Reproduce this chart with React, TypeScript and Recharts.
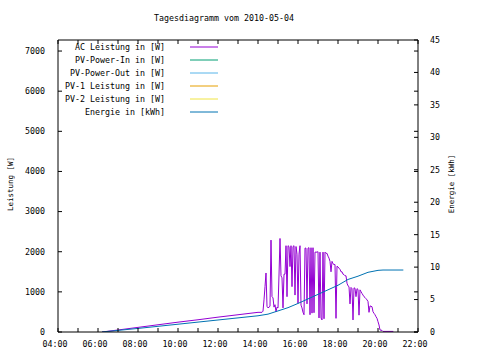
import { LineChart, Line, XAxis, YAxis } from 'recharts';

const FONT = '"DejaVu Sans Mono", monospace';

// AC Leistung [W]
const acTimes = [
  '06:12', '07:00', '08:00', '09:00', '10:00', '11:00', '12:00', '13:00', '14:00', '14:12',
  '14:15', '14:18', '14:21', '14:24', '14:27', '14:30', '14:36', '14:39', '14:42', '14:45',
  '14:48', '14:51', '14:54', '14:57', '15:00', '15:03', '15:06', '15:09', '15:12', '15:15',
  '15:18', '15:21', '15:24', '15:27', '15:30', '15:33', '15:36', '15:39', '15:42', '15:45',
  '15:48', '15:51', '15:54', '15:57', '16:00', '16:03', '16:06', '16:09', '16:12', '16:15',
  '16:18', '16:21', '16:24', '16:27', '16:30', '16:33', '16:36', '16:39', '16:42', '16:45',
  '16:48', '16:51', '16:54', '16:57', '17:00', '17:03', '17:06', '17:09', '17:12', '17:15',
  '17:18', '17:21', '17:24', '17:27', '17:30', '17:33', '17:36', '17:39', '17:42', '17:45',
  '17:48', '17:51', '17:54', '17:57', '18:00', '18:03', '18:06', '18:09', '18:12', '18:15',
  '18:18', '18:21', '18:24', '18:27', '18:30', '18:33', '18:36', '18:39', '18:42', '18:45',
  '18:48', '18:51', '18:54', '18:57', '19:00', '19:03', '19:06', '19:09', '19:12', '19:15',
  '19:18', '19:21', '19:24', '19:27', '19:30', '19:33', '19:36', '19:39', '19:42', '19:45',
  '19:48', '19:51', '19:54', '19:57', '20:00', '20:03', '20:06', '20:09', '20:12', '20:15',
  '20:46',
];
const acValues = [
  0, 50, 115, 180, 245, 305, 370, 430, 490, 490,
  520, 800, 1130, 1470, 640, 600, 640, 2290, 880, 850,
  620, 680, 500, 620, 600, 1420, 2330, 1400, 1350, 600,
  1440, 1440, 2150, 880, 2150, 2130, 1630, 2150, 1130, 2130,
  2150, 920, 2130, 1940, 715, 1940, 2150, 670, 600, 490,
  430, 2090, 2090, 700, 2090, 2100, 430, 2100, 470, 2100,
  480, 1990, 1990, 1990, 2000, 350, 1990, 350, 300, 1990,
  330, 1990, 1960, 1960, 1890, 1840, 1760, 1500, 1760, 1700,
  1680, 1680, 340, 1640, 1620, 1590, 1560, 1500, 1500, 1440,
  1430, 1400, 1400, 1215, 1150, 1130, 700, 1110, 1080, 300,
  1100, 1090, 880, 1080, 1060, 420, 1050, 1005, 960, 920,
  880, 860, 830, 800, 760, 490, 650, 640, 630, 505,
  466, 430, 380, 340, 257, 175, 50, 45, 40, 15,
  15,
];

// Energie [kWh]
const energyTimes = [
  '06:12', '08:00', '10:00', '12:00', '14:00', '14:30', '15:00', '15:30', '16:00', '16:30',
  '17:00', '17:30', '18:00', '18:30', '19:00', '19:30', '20:00', '20:15', '21:16',
];
const energyValues = [0, 0.55, 1.2, 1.85, 2.5, 2.75, 3.25, 3.75, 4.4, 5.1, 5.8, 6.5, 7.2, 8.1, 8.6, 9.2, 9.5, 9.55, 9.55];

const seriesNames = [
  'AC Leistung in [W]',
  'PV-Power-In in [W]',
  'PV-Power-Out in [W]',
  'PV-1 Leistung in [W]',
  'PV-2 Leistung in [W]',
  'Energie in [kWh]',
];
const seriesColors = ['#9400d3', '#009e73', '#56b4e9', '#e69f00', '#f0e442', '#0072b2'];

const hourTicks = [4, 5, 6, 7, 8, 9, 10, 11, 12, 13, 14, 15, 16, 17, 18, 19, 20, 21, 22];
const powerTicks = [0, 1000, 2000, 3000, 4000, 5000, 6000, 7000];
const energyTicks = [0, 5, 10, 15, 20, 25, 30, 35, 40, 45];

const toHours = (s: string) => {
  const [h, m] = s.split(':').map(Number);
  return h + m / 60;
};

const acData = acTimes.map((t, i) => ({ t: toHours(t), ac: acValues[i] }));
const energyData = energyTimes.map((t, i) => ({ t: toHours(t), energie: energyValues[i] }));

const fmtHour = (v: number) => (v % 2 === 0 ? `${String(v).padStart(2, '0')}:00` : '');

const FS = 8.3;
const TICK = 4;
const PLOT_W = 360;

// gnuplot style: ticks point into the plot, y ticks mirrored on the right border
const LeftTick = (props: any) => {
  const { x, y, payload } = props;
  const ax = x + 13;
  return (
    <g>
      <line x1={ax} x2={ax + TICK} y1={y} y2={y} stroke="#000" />
      <line x1={ax + PLOT_W} x2={ax + PLOT_W - TICK} y1={y} y2={y} stroke="#000" />
      <text x={x} y={y} dy="0.35em" textAnchor="end" fontSize={FS} fontFamily={FONT} fill="#000">
        {payload.value}
      </text>
    </g>
  );
};

const RightTick = (props: any) => {
  const { x, y, payload } = props;
  const ax = x - 12;
  return (
    <g>
      <line x1={ax} x2={ax - TICK} y1={y} y2={y} stroke="#000" />
      <text x={x} y={y} dy="0.35em" textAnchor="start" fontSize={FS} fontFamily={FONT} fill="#000">
        {payload.value}
      </text>
    </g>
  );
};

const BottomTick = (props: any) => {
  const { x, y, payload } = props;
  const ay = y - 9;
  return (
    <g>
      <line x1={x} x2={x} y1={ay} y2={ay - TICK} stroke="#000" />
      <text x={x - 3} y={y} dy="0.71em" textAnchor="middle" fontSize={FS} fontFamily={FONT} fill="#000">
        {fmtHour(payload.value)}
      </text>
    </g>
  );
};

const TopTick = (props: any) => {
  const { x, y } = props;
  return <line x1={x} x2={x} y1={y} y2={y + TICK} stroke="#000" />;
};

export default function App() {
  return (
    <div style={{ position: 'absolute', left: 0, top: 0, width: 480, height: 360, background: '#fff' }}>
      <LineChart width={480} height={360} margin={{ top: 39, right: 0, bottom: 0, left: 0 }}>
        <XAxis
          xAxisId="bottom"
          dataKey="t"
          type="number"
          domain={[4, 22]}
          ticks={hourTicks}
          interval={0}
          height={28}
          stroke="#000"
          tickLine={false}
          tickSize={0}
          tickMargin={9}
          tick={<BottomTick />}
          allowDataOverflow
        />
        <XAxis
          xAxisId="top"
          orientation="top"
          dataKey="t"
          type="number"
          domain={[4, 22]}
          ticks={hourTicks}
          interval={0}
          height={1}
          stroke="#000"
          tickLine={false}
          tickSize={0}
          tickMargin={0}
          tick={<TopTick />}
          allowDataOverflow
        />
        <YAxis
          yAxisId="power"
          domain={[0, 7275]}
          ticks={powerTicks}
          interval={0}
          width={58}
          stroke="#000"
          tickLine={false}
          tickSize={0}
          tickMargin={13}
          tick={<LeftTick />}
          allowDataOverflow
        />
        <YAxis
          yAxisId="energy"
          orientation="right"
          domain={[0, 45]}
          ticks={energyTicks}
          interval={0}
          width={62}
          stroke="#000"
          tickLine={false}
          tickSize={0}
          tickMargin={12}
          tick={<RightTick />}
          allowDataOverflow
        />
        <Line
          xAxisId="bottom"
          yAxisId="power"
          data={acData}
          dataKey="ac"
          type="linear"
          stroke={seriesColors[0]}
          strokeWidth={1}
          dot={false}
          isAnimationActive={false}
        />
        <Line
          xAxisId="bottom"
          yAxisId="energy"
          data={energyData}
          dataKey="energie"
          type="linear"
          stroke={seriesColors[5]}
          strokeWidth={1}
          dot={false}
          isAnimationActive={false}
        />
      </LineChart>
      <svg
        width={480}
        height={360}
        style={{ position: 'absolute', left: 0, top: 0, pointerEvents: 'none' }}
        fontFamily={FONT}
      >
        <text x={224} y={21} textAnchor="middle" fontSize={FS}>
          Tagesdiagramm vom 2010-05-04
        </text>
        {seriesNames.map((name, i) => (
          <g key={name}>
            <text x={165} y={50 + i * 13} textAnchor="end" fontSize={FS}>
              {name}
            </text>
            <line x1={190} x2={218} y1={47 + i * 13} y2={47 + i * 13} stroke={seriesColors[i]} strokeWidth={1} />
          </g>
        ))}
        <text x={13} y={184} textAnchor="middle" fontSize={7.5} transform="rotate(-90 13 184)">
          Leistung [W]
        </text>
        <text x={454} y={184} textAnchor="middle" fontSize={7.5} transform="rotate(-90 454 184)">
          Energie [kWh]
        </text>
      </svg>
    </div>
  );
}
